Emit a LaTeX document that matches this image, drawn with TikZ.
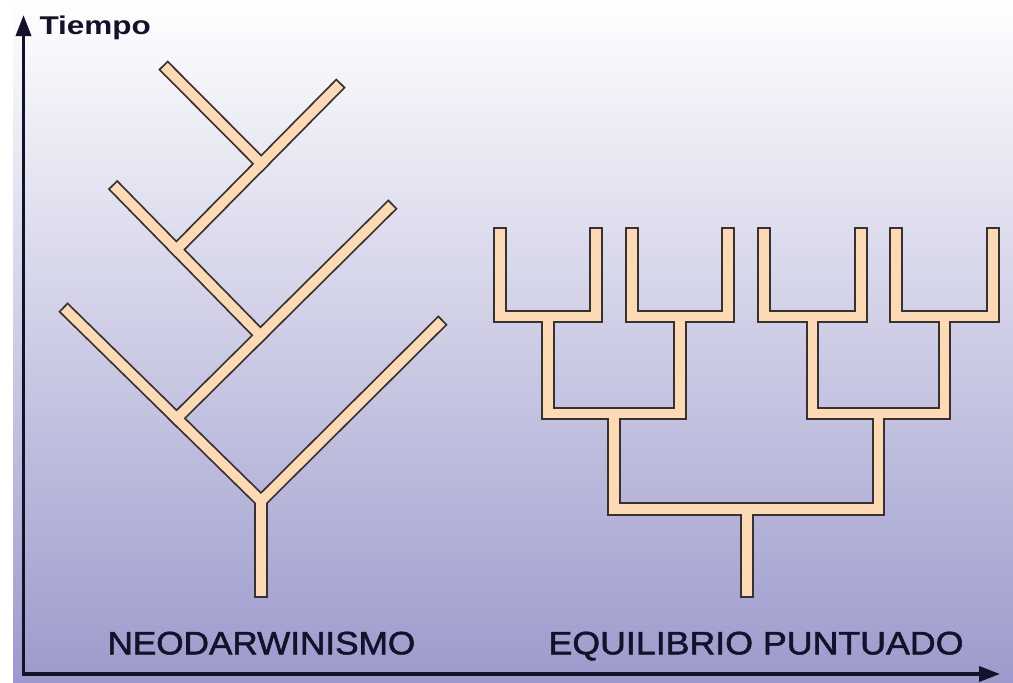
\documentclass[tikz,border=0pt]{standalone}
\usepackage{fontspec}
\setmainfont{Liberation Sans}
\newfontfamily\capfont[FakeBold=1.5]{Liberation Sans}
\usepackage{graphicx}
\usetikzlibrary{arrows.meta,calc}
\definecolor{bgbot}{HTML}{9C9ACC}
\definecolor{branchfill}{HTML}{FCDAB6}
\definecolor{branchedge}{HTML}{3A3030}
\definecolor{ink}{HTML}{12122A}
\tikzset{
  edgepass/.style={draw=branchedge, line width=13.2pt, line cap=rect, line join=miter},
  fillpass/.style={draw=branchfill, line width=9.6pt, line cap=rect, line join=miter},
  freeend/.style={shorten >=6.6pt},
  freeboth/.style={shorten <=6.6pt, shorten >=6.6pt},
  txt/.style={anchor=base west, inner sep=0pt, text=ink},
  axis/.style={draw=ink, line width=3.5pt, {Triangle[length=21pt,width=15pt]}-{Triangle[length=21pt,width=15pt]}}
}
\newcommand\neotree[1]{%
  \draw[#1,freeboth] (nLend) -- (nA) -- (nRend);
  \draw[#1,freeend] (nA) -- (nR);
  \draw[#1,freeend] (nB) -- (nMend);
  \draw[#1,freeend] (nC) -- (nCend);
  \draw[#1,freeend] (nD) -- (nDend);
  \draw[#1,freeend] (nE) -- (nEend);
}
\newcommand\eqtree[1]{%
  \draw[#1,freeboth] (u1t) -- (u1b) -- (u2b) -- (u2t);
  \draw[#1,freeboth] (u3t) -- (u3b) -- (u4b) -- (u4t);
  \draw[#1,freeboth] (u5t) -- (u5b) -- (u6b) -- (u6t);
  \draw[#1,freeboth] (u7t) -- (u7b) -- (u8b) -- (u8t);
  \draw[#1] (m1a) -- (m1b) -- (m2b) -- (m2a);
  \draw[#1] (m3a) -- (m3b) -- (m4b) -- (m4a);
  \draw[#1] (k1a) -- (k1b) -- (k2b) -- (k2a);
  \draw[#1,freeend] (ra) -- (rb);
}
\begin{document}
\begin{tikzpicture}[x=1pt,y=-1pt]
\useasboundingbox (0,0) rectangle (1013,683);
\fill[white] (0,0) rectangle (1013,683);
\shade[top color=white, bottom color=bgbot] (13,0) rectangle (1013,683);

% neodarwinism tree
\coordinate (nR) at (261,598);
\coordinate (nA) at (261,501);
\coordinate (nLend) at (63,307);
\coordinate (nRend) at (443,320);
\coordinate (nB) at ($(nLend)!(177,418)!(nA)$);
\coordinate (nMend) at (393,204);
\coordinate (nC) at ($(nB)!(260,335)!(nMend)$);
\coordinate (nCend) at (112.5,184.5);
\coordinate (nD) at ($(nC)!(177,249)!(nCend)$);
\coordinate (nDend) at (341,83);
\coordinate (nE) at ($(nD)!(261,163.5)!(nDend)$);
\coordinate (nEend) at (163,65);

% punctuated equilibrium tree
\foreach \i/\x in {1/500,2/596,3/632,4/728,5/764,6/861,7/896,8/993}{
  \coordinate (u\i t) at (\x,227);
  \coordinate (u\i b) at (\x,316.5);
}
\foreach \i/\x in {1/548,2/680,3/812.5,4/944.5}{
  \coordinate (m\i a) at (\x,316.5);
  \coordinate (m\i b) at (\x,413.5);
}
\foreach \i/\x in {1/614,2/878.5}{
  \coordinate (k\i a) at (\x,413.5);
  \coordinate (k\i b) at (\x,509);
}
\coordinate (ra) at (747,509);
\coordinate (rb) at (747,598);

\neotree{edgepass}
\eqtree{edgepass}
\neotree{fillpass}
\eqtree{fillpass}

% axes
\coordinate (ytop) at (23.5,15);
\coordinate (xend) at (1000,674);
\draw[axis] (ytop) |- (xend);

% labels
\node[txt] (tiempo) at (39.3,34.3) {\resizebox{111.4pt}{18.6pt}{\bfseries Tiempo}};
\node[txt] (neo) at (107.3,654.3) {\resizebox{307.7pt}{22.6pt}{\capfont NEODARWINISMO}};
\node[txt] (equi) at (548.3,654.3) {\resizebox{415pt}{22.6pt}{\capfont EQUILIBRIO PUNTUADO}};
\end{tikzpicture}
\end{document}
